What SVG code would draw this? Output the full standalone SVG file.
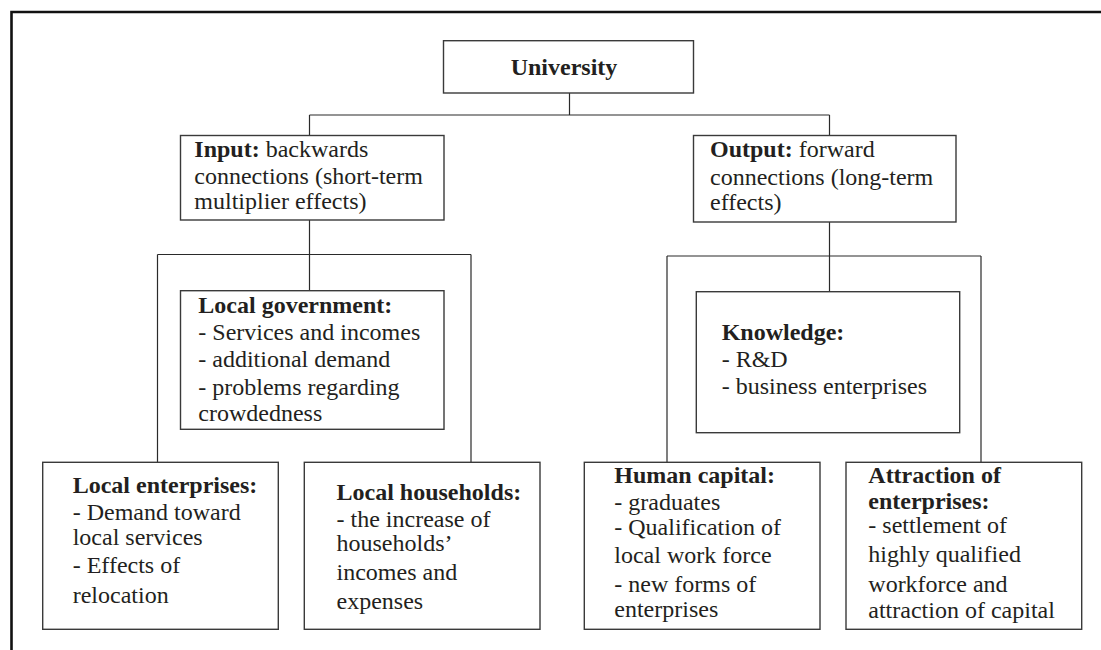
<svg xmlns="http://www.w3.org/2000/svg" width="1101" height="650" viewBox="0 0 1101 650">
<style>
.box{fill:#fff;stroke:#3a3a3a;stroke-width:1.4}
.con{stroke:#2a2a2a;stroke-width:1.2;fill:none}
text{font-family:"Liberation Serif","Times New Roman",serif;font-size:24px;fill:#231f20}
.b{font-weight:bold}
</style>
<rect x="0" y="0" width="1101" height="650" fill="#fff"/>
<g id="frame">
<path d="M11.5 650 V12 H1101" fill="none" stroke="#111" stroke-width="2.6"/>
</g>
<g id="connectors" class="con">
<path d="M569.5 93 V115 M309.5 115 H829.5 M309.5 115 V135.5 M829.5 115 V135.5"/>
<path d="M309.5 220 V254.5 M157.5 254.5 H471 M309.5 254.5 V290.7 M157.5 254.5 V462.3 M471 254.5 V462.3"/>
<path d="M829.5 222 V256 M667 256 H981 M829.5 256 V291.7 M667 256 V462.3 M981 256 V462.3"/>
</g>
<g id="university">
<rect class="box" x="443.5" y="40.7" width="250" height="52.3"/>
<text class="b" x="564" y="75" text-anchor="middle">University</text>
</g>
<g id="input">
<rect class="box" x="180.5" y="135.5" width="263.5" height="84.5"/>
<text x="194.3" y="156.7"><tspan class="b">Input:</tspan> backwards</text>
<text x="194.3" y="184.3">connections (short-term</text>
<text x="194.3" y="209.3">multiplier effects)</text>
</g>
<g id="output">
<rect class="box" x="693.5" y="135.5" width="262.5" height="86.5"/>
<text x="710" y="156.7"><tspan class="b">Output:</tspan> forward</text>
<text x="710" y="185">connections (long-term</text>
<text x="710" y="210">effects)</text>
</g>
<g id="local-government">
<rect class="box" x="180.5" y="290.7" width="263.5" height="138.6"/>
<text class="b" x="198.3" y="313.3">Local government:</text>
<text x="198.3" y="340">- Services and incomes</text>
<text x="198.3" y="367">- additional demand</text>
<text x="198.3" y="395">- problems regarding</text>
<text x="198.3" y="421">crowdedness</text>
</g>
<g id="knowledge">
<rect class="box" x="696.3" y="291.7" width="263.4" height="141"/>
<text class="b" x="721.7" y="340">Knowledge:</text>
<text x="721.7" y="366.7">- R&amp;D</text>
<text x="721.7" y="394">- business enterprises</text>
</g>
<g id="local-enterprises">
<rect class="box" x="42.7" y="462.3" width="235.6" height="167"/>
<text class="b" x="72.7" y="492.7">Local enterprises:</text>
<text x="72.7" y="520">- Demand toward</text>
<text x="72.7" y="545">local services</text>
<text x="72.7" y="573.3">- Effects of</text>
<text x="72.7" y="603.3">relocation</text>
</g>
<g id="local-households">
<rect class="box" x="304.3" y="462.3" width="235.7" height="167"/>
<text class="b" x="336.5" y="500">Local households:</text>
<text x="336.5" y="526.7">- the increase of</text>
<text x="336.5" y="551">households’</text>
<text x="336.5" y="580">incomes and</text>
<text x="336.5" y="608.7">expenses</text>
</g>
<g id="human-capital">
<rect class="box" x="584.3" y="462.3" width="235.7" height="167"/>
<text class="b" x="614.3" y="482.7">Human capital:</text>
<text x="614.3" y="510">- graduates</text>
<text x="614.3" y="535">- Qualification of</text>
<text x="614.3" y="563.3">local work force</text>
<text x="614.3" y="591.7">- new forms of</text>
<text x="614.3" y="616.7">enterprises</text>
</g>
<g id="attraction">
<rect class="box" x="846" y="462.3" width="235.7" height="167"/>
<text class="b" x="868.3" y="482.7">Attraction of</text>
<text class="b" x="868.3" y="509.3">enterprises:</text>
<text x="868.3" y="533.3">- settlement of</text>
<text x="868.3" y="561.7">highly qualified</text>
<text x="868.3" y="591.7">workforce and</text>
<text x="868.3" y="617.7">attraction of capital</text>
</g>
</svg>
